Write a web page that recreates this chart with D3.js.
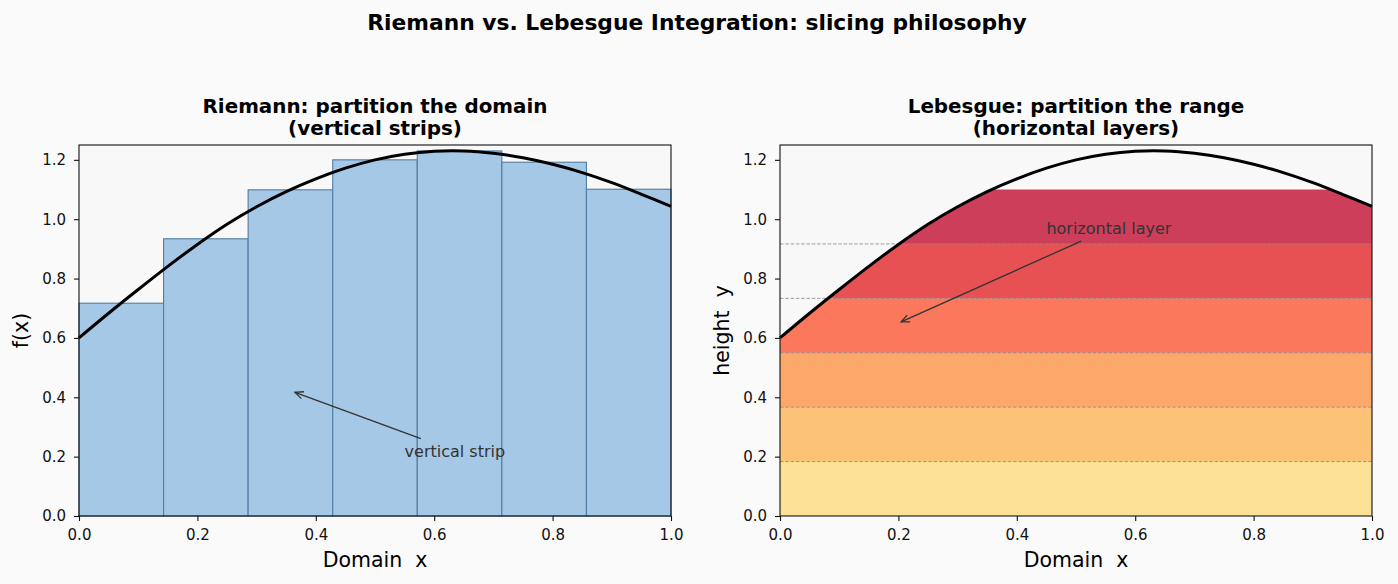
<!DOCTYPE html>
<html>
<head>
<meta charset="utf-8">
<script src="https://cdn.jsdelivr.net/npm/d3@7"></script>
<style>
  body { margin: 0; background: #fafafa; }
  text { font-family: "DejaVu Sans", sans-serif; }
</style>
</head>
<body>
<div id="chart-area"></div>
<script>
// values
var curveX = [0, 0.05, 0.10, 0.15, 0.20, 0.25, 0.30, 0.35, 0.40, 0.45, 0.50,
              0.55, 0.60, 0.65, 0.70, 0.75, 0.80, 0.85, 0.90, 0.95, 1.00]
var curveY = [0.600, 0.683, 0.763, 0.841, 0.915, 0.983, 1.042, 1.093, 1.136, 1.172, 1.200,
              1.219, 1.229, 1.230, 1.222, 1.207, 1.185, 1.157, 1.123, 1.084, 1.043]

var stripEdges = [0, 0.1429, 0.2857, 0.4286, 0.5714, 0.7143, 0.8571, 1.0]
var stripHeights = [0.717, 0.934, 1.099, 1.200, 1.230, 1.192, 1.101]

var layerEdges = [0, 0.1833, 0.3667, 0.55, 0.7333, 0.9167, 1.1]
var layerColors = ["#fed976", "#feb24c", "#fd8d3c", "#fc4e2a", "#e31a1c", "#bd0026"]

var tickVals = [0, 0.2, 0.4, 0.6, 0.8, 1.0]
var yTickVals = [0, 0.2, 0.4, 0.6, 0.8, 1.0, 1.2]

var curve = curveX.map(function(x, i) { return { x: x, y: curveY[i] } })

var W = 1398, H = 584
var plotTop = 145, plotBottom = 516

var svg = d3.select("#chart-area")
  .append("svg")
  .attr("width", W)
  .attr("height", H)

svg.append("rect").attr("width", W).attr("height", H).attr("fill", "#fafafa")

var defs = svg.append("defs")

svg.append("text")
  .attr("x", 697)
  .attr("y", 29.5)
  .attr("text-anchor", "middle")
  .attr("font-size", "21.8px")
  .attr("font-weight", "bold")
  .text("Riemann vs. Lebesgue Integration: slicing philosophy")

var y = d3.scaleLinear().domain([0, 1.25]).range([plotBottom, plotTop])

function drawArrow(g, textNode, tx, ty) {
  // arrow from edge of the text box to the target point
  var bb = textNode.getBBox()
  var pad = 3
  var cx = bb.x + bb.width / 2, cy = bb.y + bb.height / 2
  var dx = tx - cx, dy = ty - cy
  var hw = bb.width / 2 + pad, hh = bb.height / 2 + pad
  var t = Math.min(Math.abs(hw / dx), Math.abs(hh / dy))
  var sx = cx + dx * t, sy = cy + dy * t
  var len = Math.sqrt((tx - sx) * (tx - sx) + (ty - sy) * (ty - sy))
  var ux = (tx - sx) / len, uy = (ty - sy) / len
  var ex = tx - ux * 3, ey = ty - uy * 3
  g.append("line")
    .attr("x1", sx).attr("y1", sy).attr("x2", ex).attr("y2", ey)
    .attr("stroke", "#333").attr("stroke-width", 1.3)
  var a = Math.atan2(uy, ux), hl = 9, ha = 0.42
  var p = [[ex - hl * Math.cos(a - ha), ey - hl * Math.sin(a - ha)], [ex, ey],
           [ex - hl * Math.cos(a + ha), ey - hl * Math.sin(a + ha)]]
  g.append("path")
    .attr("d", d3.line()(p))
    .attr("fill", "none").attr("stroke", "#333").attr("stroke-width", 1.3)
}

function panel(x0, x1, title1, title2, ylabel) {
  var x = d3.scaleLinear().domain([0, 1]).range([x0, x1])
  var g = svg.append("g")

  g.append("rect")
    .attr("x", x0).attr("y", plotTop)
    .attr("width", x1 - x0).attr("height", plotBottom - plotTop)
    .attr("fill", "#f8f8f8")

  var t = g.append("text")
    .attr("text-anchor", "middle")
    .attr("font-size", "19.9px")
    .attr("font-weight", "bold")
  t.append("tspan").attr("x", (x0 + x1) / 2).attr("y", 113).text(title1)
  t.append("tspan").attr("x", (x0 + x1) / 2).attr("y", 134.5).text(title2)

  return { g: g, x: x, x0: x0, x1: x1, ylabel: ylabel }
}

function finishAxes(p) {
  var g = p.g
  var xa = g.append("g")
    .attr("transform", "translate(0," + plotBottom + ")")
    .call(d3.axisBottom(p.x).tickValues(tickVals).tickFormat(d3.format(".1f")).tickSize(5).tickPadding(8).tickSizeOuter(0))
  var ya = g.append("g")
    .attr("transform", "translate(" + p.x0 + ",0)")
    .call(d3.axisLeft(y).tickValues(yTickVals).tickFormat(d3.format(".1f")).tickSize(5).tickPadding(8).tickSizeOuter(0))
  ;[xa, ya].forEach(function(a) {
    a.select(".domain").remove()
    a.attr("font-size", null).attr("font-family", null)
    a.selectAll("text").attr("font-size", "15px").attr("fill", "#111")
    a.selectAll("line").attr("stroke", "#111").attr("stroke-width", 1.1)
  })

  g.append("rect")
    .attr("x", p.x0).attr("y", plotTop)
    .attr("width", p.x1 - p.x0).attr("height", plotBottom - plotTop)
    .attr("fill", "none").attr("stroke", "#111").attr("stroke-width", 1.1)

  g.append("text")
    .attr("x", (p.x0 + p.x1) / 2)
    .attr("y", 567)
    .attr("text-anchor", "middle")
    .attr("font-size", "20.5px")
    .attr("xml:space", "preserve")
    .style("white-space", "pre")
    .text("Domain  x")

  g.append("text")
    .attr("transform", "translate(" + (p.x0 - 51) + "," + ((plotTop + plotBottom) / 2) + ") rotate(-90)")
    .attr("text-anchor", "middle")
    .attr("font-size", "20.5px")
    .attr("xml:space", "preserve")
    .style("white-space", "pre")
    .text(p.ylabel)
}

function curveLine(p) {
  return d3.line()
    .x(function(d) { return p.x(d.x) })
    .y(function(d) { return y(d.y) })
    .curve(d3.curveCatmullRom)
}

// ---------- Riemann ----------
var left = panel(79, 671, "Riemann: partition the domain", "(vertical strips)", "f(x)")

left.g.selectAll(".strip")
  .data(stripHeights)
  .enter()
  .append("rect")
  .attr("class", "strip")
  .attr("x", function(d, i) { return left.x(stripEdges[i]) })
  .attr("width", function(d, i) { return left.x(stripEdges[i + 1]) - left.x(stripEdges[i]) })
  .attr("y", function(d) { return y(d) })
  .attr("height", function(d) { return y(0) - y(d) })
  .attr("fill", "#a5c8e6")
  .attr("stroke", "#4f7ca3")
  .attr("stroke-width", 1.1)

left.g.append("path")
  .datum(curve)
  .attr("d", curveLine(left))
  .attr("fill", "none")
  .attr("stroke", "#000")
  .attr("stroke-width", 3)

var lt = left.g.append("text")
  .attr("x", left.x(0.55)).attr("y", y(0.2))
  .attr("font-size", "16px").attr("fill", "#333")
  .text("vertical strip")
drawArrow(left.g, lt.node(), left.x(0.36), y(0.42))

finishAxes(left)

// ---------- Lebesgue ----------
var right = panel(780, 1372, "Lebesgue: partition the range", "(horizontal layers)", "height  y")

var under = d3.area()
  .x(function(d) { return right.x(d.x) })
  .y0(y(0))
  .y1(function(d) { return y(d.y) })
  .curve(d3.curveCatmullRom)

defs.append("clipPath").attr("id", "under-curve")
  .append("path").datum(curve).attr("d", under)

right.g.append("g")
  .attr("clip-path", "url(#under-curve)")
  .selectAll("rect")
  .data(layerColors)
  .enter()
  .append("rect")
  .attr("x", right.x(0))
  .attr("width", right.x(1) - right.x(0))
  .attr("y", function(d, i) { return y(layerEdges[i + 1]) })
  .attr("height", function(d, i) { return y(layerEdges[i]) - y(layerEdges[i + 1]) })
  .attr("fill", function(d) { return d })
  .attr("fill-opacity", 0.75)

right.g.selectAll(".cut")
  .data(layerEdges.slice(1, layerEdges.length - 1))
  .enter()
  .append("line")
  .attr("class", "cut")
  .attr("x1", right.x(0)).attr("x2", right.x(1))
  .attr("y1", function(d) { return y(d) }).attr("y2", function(d) { return y(d) })
  .attr("stroke", "#888")
  .attr("stroke-width", 0.8)
  .attr("stroke-dasharray", "3.5,1.8")

right.g.append("path")
  .datum(curve)
  .attr("d", curveLine(right))
  .attr("fill", "none")
  .attr("stroke", "#000")
  .attr("stroke-width", 3)

var rt = right.g.append("text")
  .attr("x", right.x(0.45)).attr("y", y(0.95))
  .attr("font-size", "16px").attr("fill", "#333")
  .text("horizontal layer")
drawArrow(right.g, rt.node(), right.x(0.2), y(0.65))

finishAxes(right)
</script>
</body>
</html>
